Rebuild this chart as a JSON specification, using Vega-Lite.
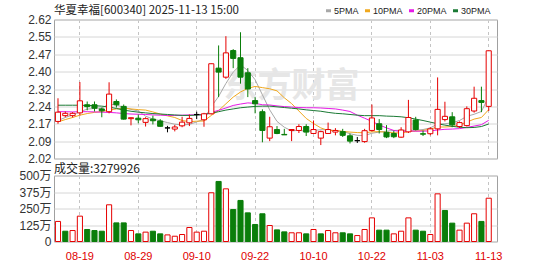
{
  "$schema": "https://vega.github.io/schema/vega-lite/v6.json",
  "background": "white",
  "padding": {"left": 18, "top": 5.5, "right": 5, "bottom": 0},
  "data": {"values": [
    {"d":"08-14","o":2.18,"h":2.28,"l":2.17,"c":2.22,"v":1520000,"vc":"u","5PMA":2.184,"10PMA":2.178,"20PMA":2.222,"30PMA":2.25},
    {"d":"08-15","o":2.205,"h":2.223,"l":2.198,"c":2.215,"v":780000,"vc":"d","5PMA":2.197,"10PMA":2.188,"20PMA":2.222,"30PMA":2.25},
    {"d":"08-18","o":2.205,"h":2.22,"l":2.197,"c":2.215,"v":830000,"vc":"u","5PMA":2.208,"10PMA":2.197,"20PMA":2.221,"30PMA":2.25},
    {"d":"08-19","o":2.217,"h":2.35,"l":2.206,"c":2.269,"v":1920000,"vc":"u","5PMA":2.222,"10PMA":2.207,"20PMA":2.222,"30PMA":2.25},
    {"d":"08-20","o":2.252,"h":2.266,"l":2.228,"c":2.244,"v":910000,"vc":"d","5PMA":2.233,"10PMA":2.214,"20PMA":2.222,"30PMA":2.249},
    {"d":"08-21","o":2.252,"h":2.266,"l":2.223,"c":2.237,"v":830000,"vc":"d","5PMA":2.236,"10PMA":2.219,"20PMA":2.221,"30PMA":2.248},
    {"d":"08-22","o":2.234,"h":2.24,"l":2.198,"c":2.226,"v":780000,"vc":"d","5PMA":2.238,"10PMA":2.223,"20PMA":2.22,"30PMA":2.246},
    {"d":"08-25","o":2.222,"h":2.349,"l":2.215,"c":2.298,"v":2780000,"vc":"u","5PMA":2.255,"10PMA":2.229,"20PMA":2.219,"30PMA":2.242},
    {"d":"08-26","o":2.266,"h":2.275,"l":2.24,"c":2.252,"v":1410000,"vc":"d","5PMA":2.251,"10PMA":2.234,"20PMA":2.217,"30PMA":2.236},
    {"d":"08-27","o":2.245,"h":2.253,"l":2.188,"c":2.19,"v":1410000,"vc":"d","5PMA":2.241,"10PMA":2.237,"20PMA":2.214,"30PMA":2.229},
    {"d":"08-28","o":2.192,"h":2.198,"l":2.163,"c":2.196,"v":830000,"vc":"u","5PMA":2.232,"10PMA":2.234,"20PMA":2.212,"30PMA":2.224},
    {"d":"08-29","o":2.194,"h":2.21,"l":2.172,"c":2.187,"v":580000,"vc":"d","5PMA":2.225,"10PMA":2.231,"20PMA":2.211,"30PMA":2.22},
    {"d":"09-01","o":2.176,"h":2.198,"l":2.158,"c":2.192,"v":710000,"vc":"u","5PMA":2.203,"10PMA":2.229,"20PMA":2.21,"30PMA":2.217},
    {"d":"09-02","o":2.19,"h":2.205,"l":2.167,"c":2.183,"v":780000,"vc":"d","5PMA":2.19,"10PMA":2.221,"20PMA":2.208,"30PMA":2.214},
    {"d":"09-03","o":2.182,"h":2.19,"l":2.157,"c":2.159,"v":580000,"vc":"d","5PMA":2.183,"10PMA":2.212,"20PMA":2.207,"30PMA":2.212},
    {"d":"09-04","o":2.152,"h":2.161,"l":2.133,"c":2.152,"v":500000,"vc":"u","5PMA":2.175,"10PMA":2.204,"20PMA":2.206,"30PMA":2.21},
    {"d":"09-05","o":2.147,"h":2.165,"l":2.137,"c":2.156,"v":400000,"vc":"u","5PMA":2.168,"10PMA":2.197,"20PMA":2.206,"30PMA":2.208},
    {"d":"09-08","o":2.161,"h":2.2,"l":2.155,"c":2.177,"v":530000,"vc":"u","5PMA":2.165,"10PMA":2.184,"20PMA":2.207,"30PMA":2.206},
    {"d":"09-09","o":2.174,"h":2.21,"l":2.16,"c":2.193,"v":1060000,"vc":"u","5PMA":2.167,"10PMA":2.179,"20PMA":2.208,"30PMA":2.206},
    {"d":"09-10","o":2.21,"h":2.222,"l":2.19,"c":2.21,"v":710000,"vc":"u","5PMA":2.178,"10PMA":2.181,"20PMA":2.209,"30PMA":2.207},
    {"d":"09-11","o":2.187,"h":2.217,"l":2.157,"c":2.213,"v":780000,"vc":"u","5PMA":2.19,"10PMA":2.182,"20PMA":2.208,"30PMA":2.21},
    {"d":"09-12","o":2.213,"h":2.43,"l":2.21,"c":2.429,"v":3690000,"vc":"u","5PMA":2.244,"10PMA":2.206,"20PMA":2.219,"30PMA":2.216},
    {"d":"09-15","o":2.41,"h":2.508,"l":2.285,"c":2.393,"v":4550000,"vc":"d","5PMA":2.288,"10PMA":2.227,"20PMA":2.228,"30PMA":2.222},
    {"d":"09-16","o":2.371,"h":2.548,"l":2.364,"c":2.476,"v":3990000,"vc":"u","5PMA":2.344,"10PMA":2.256,"20PMA":2.238,"30PMA":2.229},
    {"d":"09-17","o":2.486,"h":2.492,"l":2.41,"c":2.452,"v":2420000,"vc":"d","5PMA":2.393,"10PMA":2.285,"20PMA":2.249,"30PMA":2.234},
    {"d":"09-18","o":2.455,"h":2.565,"l":2.343,"c":2.371,"v":3110000,"vc":"d","5PMA":2.424,"10PMA":2.307,"20PMA":2.255,"30PMA":2.239},
    {"d":"09-19","o":2.39,"h":2.41,"l":2.285,"c":2.32,"v":2170000,"vc":"d","5PMA":2.4,"10PMA":2.323,"20PMA":2.26,"30PMA":2.242},
    {"d":"09-22","o":2.27,"h":2.285,"l":2.215,"c":2.256,"v":1290000,"vc":"d","5PMA":2.36,"10PMA":2.331,"20PMA":2.258,"30PMA":2.245},
    {"d":"09-23","o":2.222,"h":2.232,"l":2.09,"c":2.141,"v":2100000,"vc":"d","5PMA":2.295,"10PMA":2.326,"20PMA":2.252,"30PMA":2.246},
    {"d":"09-24","o":2.108,"h":2.2,"l":2.095,"c":2.157,"v":1210000,"vc":"u","5PMA":2.23,"10PMA":2.321,"20PMA":2.251,"30PMA":2.246},
    {"d":"09-25","o":2.145,"h":2.16,"l":2.125,"c":2.128,"v":880000,"vc":"d","5PMA":2.18,"10PMA":2.312,"20PMA":2.247,"30PMA":2.243},
    {"d":"09-26","o":2.124,"h":2.148,"l":2.122,"c":2.122,"v":730000,"vc":"d","5PMA":2.155,"10PMA":2.282,"20PMA":2.244,"30PMA":2.24},
    {"d":"09-29","o":2.141,"h":2.146,"l":2.095,"c":2.145,"v":660000,"vc":"u","5PMA":2.139,"10PMA":2.257,"20PMA":2.242,"30PMA":2.237},
    {"d":"09-30","o":2.141,"h":2.168,"l":2.13,"c":2.158,"v":660000,"vc":"u","5PMA":2.142,"10PMA":2.225,"20PMA":2.24,"30PMA":2.234},
    {"d":"10-09","o":2.158,"h":2.168,"l":2.117,"c":2.134,"v":580000,"vc":"d","5PMA":2.137,"10PMA":2.193,"20PMA":2.239,"30PMA":2.23},
    {"d":"10-10","o":2.128,"h":2.184,"l":2.126,"c":2.145,"v":910000,"vc":"u","5PMA":2.141,"10PMA":2.171,"20PMA":2.239,"30PMA":2.227},
    {"d":"10-13","o":2.108,"h":2.14,"l":2.078,"c":2.136,"v":580000,"vc":"d","5PMA":2.144,"10PMA":2.152,"20PMA":2.238,"30PMA":2.224},
    {"d":"10-14","o":2.128,"h":2.175,"l":2.126,"c":2.145,"v":830000,"vc":"u","5PMA":2.144,"10PMA":2.141,"20PMA":2.236,"30PMA":2.219},
    {"d":"10-15","o":2.134,"h":2.151,"l":2.12,"c":2.141,"v":660000,"vc":"u","5PMA":2.14,"10PMA":2.141,"20PMA":2.234,"30PMA":2.215},
    {"d":"10-16","o":2.136,"h":2.148,"l":2.113,"c":2.12,"v":660000,"vc":"d","5PMA":2.137,"10PMA":2.137,"20PMA":2.229,"30PMA":2.213},
    {"d":"10-17","o":2.118,"h":2.127,"l":2.085,"c":2.095,"v":580000,"vc":"d","5PMA":2.127,"10PMA":2.134,"20PMA":2.223,"30PMA":2.21},
    {"d":"10-20","o":2.097,"h":2.113,"l":2.087,"c":2.097,"v":450000,"vc":"u","5PMA":2.12,"10PMA":2.132,"20PMA":2.207,"30PMA":2.207},
    {"d":"10-21","o":2.093,"h":2.148,"l":2.088,"c":2.14,"v":910000,"vc":"u","5PMA":2.119,"10PMA":2.131,"20PMA":2.194,"30PMA":2.205},
    {"d":"10-22","o":2.141,"h":2.253,"l":2.136,"c":2.195,"v":1790000,"vc":"u","5PMA":2.129,"10PMA":2.135,"20PMA":2.18,"30PMA":2.205},
    {"d":"10-23","o":2.17,"h":2.19,"l":2.128,"c":2.145,"v":860000,"vc":"d","5PMA":2.134,"10PMA":2.136,"20PMA":2.165,"30PMA":2.205},
    {"d":"10-24","o":2.133,"h":2.164,"l":2.108,"c":2.113,"v":860000,"vc":"d","5PMA":2.138,"10PMA":2.133,"20PMA":2.152,"30PMA":2.203},
    {"d":"10-27","o":2.128,"h":2.14,"l":2.108,"c":2.114,"v":580000,"vc":"u","5PMA":2.141,"10PMA":2.131,"20PMA":2.141,"30PMA":2.202},
    {"d":"10-28","o":2.112,"h":2.155,"l":2.11,"c":2.143,"v":780000,"vc":"u","5PMA":2.142,"10PMA":2.13,"20PMA":2.136,"30PMA":2.2},
    {"d":"10-29","o":2.135,"h":2.273,"l":2.13,"c":2.197,"v":1790000,"vc":"u","5PMA":2.142,"10PMA":2.136,"20PMA":2.139,"30PMA":2.196},
    {"d":"10-30","o":2.186,"h":2.2,"l":2.141,"c":2.145,"v":860000,"vc":"d","5PMA":2.142,"10PMA":2.138,"20PMA":2.138,"30PMA":2.19},
    {"d":"10-31","o":2.127,"h":2.14,"l":2.117,"c":2.125,"v":780000,"vc":"d","5PMA":2.145,"10PMA":2.141,"20PMA":2.138,"30PMA":2.184},
    {"d":"11-03","o":2.127,"h":2.155,"l":2.12,"c":2.148,"v":530000,"vc":"u","5PMA":2.152,"10PMA":2.147,"20PMA":2.139,"30PMA":2.177},
    {"d":"11-04","o":2.148,"h":2.37,"l":2.12,"c":2.232,"v":3610000,"vc":"u","5PMA":2.169,"10PMA":2.156,"20PMA":2.143,"30PMA":2.17},
    {"d":"11-05","o":2.188,"h":2.265,"l":2.18,"c":2.202,"v":2350000,"vc":"d","5PMA":2.17,"10PMA":2.156,"20PMA":2.146,"30PMA":2.164},
    {"d":"11-06","o":2.2,"h":2.22,"l":2.155,"c":2.165,"v":1390000,"vc":"d","5PMA":2.174,"10PMA":2.158,"20PMA":2.147,"30PMA":2.159},
    {"d":"11-07","o":2.158,"h":2.18,"l":2.152,"c":2.175,"v":860000,"vc":"u","5PMA":2.184,"10PMA":2.165,"20PMA":2.149,"30PMA":2.155},
    {"d":"11-10","o":2.162,"h":2.245,"l":2.158,"c":2.235,"v":1390000,"vc":"u","5PMA":2.202,"10PMA":2.177,"20PMA":2.154,"30PMA":2.153},
    {"d":"11-11","o":2.225,"h":2.33,"l":2.218,"c":2.28,"v":2100000,"vc":"u","5PMA":2.211,"10PMA":2.19,"20PMA":2.16,"30PMA":2.154},
    {"d":"11-12","o":2.27,"h":2.33,"l":2.22,"c":2.262,"v":1520000,"vc":"d","5PMA":2.223,"10PMA":2.197,"20PMA":2.166,"30PMA":2.158},
    {"d":"11-13","o":2.245,"h":2.485,"l":2.225,"c":2.485,"v":3279926,"vc":"u","5PMA":2.287,"10PMA":2.231,"20PMA":2.185,"30PMA":2.169}
  ]},
  "vconcat": [
    {
      "width": 443,
      "height": 139,
      "encoding": {
        "x": {"field": "d", "type": "ordinal", "sort": null,
              "scale": {"paddingInner": 0.3, "paddingOuter": 0.49, "align": 0.2},
              "axis": {"values": ["08-19","08-29","09-10","09-22","10-10","10-22","11-03","11-13"], "labels": false, "ticks": false, "domain": false, "grid": true, "gridDash": [3,3], "gridColor": "#c4c4c4", "bandPosition": 0.5, "title": null}}
      },
      "layer": [
        {
          "mark": {"type": "text", "font": "Noto Sans CJK SC", "fontWeight": "bold", "fontSize": 34, "color": "#e6e6e6"},
          "encoding": {
            "y": {"datum": 2.33, "type": "quantitative",
                  "scale": {"domain": [2.02, 2.62], "zero": false, "nice": false},
                  "axis": {"values": [2.02, 2.095, 2.17, 2.245, 2.32, 2.395, 2.47, 2.545, 2.62], "labelExpr": "['2.02','2.09','2.17','2.24','2.32','2.40','2.47','2.55','2.62'][round((datum.value-2.02)/0.075)]", "grid": true, "gridColor": "#d6d6d6", "domain": false, "ticks": false, "labelPadding": 3, "labelFontSize": 12, "labelOverlap": false, "title": null}},
            "text": {"condition": {"test": "datum.d == '09-29'", "value": "东方财富"}, "value": ""}
          }
        },
        {
          "transform": [{"fold": ["5PMA", "10PMA", "20PMA", "30PMA"], "as": ["k", "m"]}],
          "mark": {"type": "line", "strokeWidth": 1},
          "encoding": {
            "y": {"field": "m", "type": "quantitative",
                  "scale": {"domain": [2.02, 2.62], "zero": false, "nice": false},
                  "axis": {"values": [2.02, 2.095, 2.17, 2.245, 2.32, 2.395, 2.47, 2.545, 2.62], "labelExpr": "['2.02','2.09','2.17','2.24','2.32','2.40','2.47','2.55','2.62'][round((datum.value-2.02)/0.075)]", "grid": true, "gridColor": "#d6d6d6", "domain": false, "ticks": false, "labelPadding": 3, "labelFontSize": 12, "labelOverlap": false, "title": null}},
            "color": {"field": "k", "type": "nominal",
                      "scale": {"domain": ["5PMA", "10PMA", "20PMA", "30PMA"], "range": ["#a8a8a8", "#f0a81e", "#e619e6", "#1b7a35"]},
                      "legend": {"orient": "none", "legendX": 0, "legendY": -13.5, "direction": "horizontal", "padding": 0,
                                 "title": "华夏幸福[600340] 2025-11-13 15:00", "titleOrient": "left", "titleFont": "Noto Sans CJK SC", "titleFontSize": 11.5, "titleFontWeight": "normal", "titleColor": "#222222", "titleLimit": 400, "titlePadding": 85, "titleBaseline": "middle",
                                 "symbolType": "stroke", "symbolStrokeWidth": 3, "symbolSize": 25, "labelFontSize": 9, "labelFont": "Liberation Sans", "labelColor": "#222222", "columnPadding": 0, "labelOffset": 1}}
          }
        },
        {
          "mark": {"type": "rule", "strokeWidth": 1},
          "encoding": {
            "y": {"field": "l", "type": "quantitative",
                  "scale": {"domain": [2.02, 2.62], "zero": false, "nice": false},
                  "axis": {"values": [2.02, 2.095, 2.17, 2.245, 2.32, 2.395, 2.47, 2.545, 2.62], "labelExpr": "['2.02','2.09','2.17','2.24','2.32','2.40','2.47','2.55','2.62'][round((datum.value-2.02)/0.075)]", "grid": true, "gridColor": "#d6d6d6", "domain": false, "ticks": false, "labelPadding": 3, "labelFontSize": 12, "labelOverlap": false, "title": null}},
            "y2": {"field": "h"},
            "stroke": {"condition": [{"test": "datum.c > datum.o", "value": "#e60000"}, {"test": "datum.c < datum.o", "value": "#0a7e0a"}], "value": "#000000"}
          }
        },
        {
          "mark": {"type": "bar", "strokeWidth": 1},
          "encoding": {
            "y": {"field": "o", "type": "quantitative",
                  "scale": {"domain": [2.02, 2.62], "zero": false, "nice": false},
                  "axis": {"values": [2.02, 2.095, 2.17, 2.245, 2.32, 2.395, 2.47, 2.545, 2.62], "labelExpr": "['2.02','2.09','2.17','2.24','2.32','2.40','2.47','2.55','2.62'][round((datum.value-2.02)/0.075)]", "grid": true, "gridColor": "#d6d6d6", "domain": false, "ticks": false, "labelPadding": 3, "labelFontSize": 12, "labelOverlap": false, "title": null}},
            "y2": {"field": "c"},
            "fill": {"condition": {"test": "datum.c < datum.o", "value": "#0a7e0a"}, "value": "#ffffff"},
            "stroke": {"condition": [{"test": "datum.c > datum.o", "value": "#e60000"}, {"test": "datum.c < datum.o", "value": "#0a7e0a"}], "value": "#000000"}
          }
        }
      ]
    },
    {
      "width": 443,
      "height": 66,
      "title": {"text": "成交量:3279926", "anchor": "start", "frame": "group", "fontSize": 12, "fontWeight": "normal", "font": "Noto Sans CJK SC", "color": "#222222", "offset": -6},
      "mark": {"type": "bar", "strokeWidth": 1},
      "encoding": {
        "x": {"field": "d", "type": "ordinal", "sort": null,
              "scale": {"paddingInner": 0.3, "paddingOuter": 0.49, "align": 0.2},
              "axis": {"values": ["08-19","08-29","09-10","09-22","10-10","10-22","11-03","11-13"], "labelColor": "#e00000", "labelFontSize": 11, "labelAngle": 0, "ticks": false, "domain": false, "grid": true, "gridDash": [3,3], "gridColor": "#c4c4c4", "bandPosition": 0.5, "labelPadding": 9, "title": null}},
        "y": {"field": "v", "type": "quantitative",
              "scale": {"domain": [0, 5000000], "nice": false},
              "axis": {"values": [0, 1250000, 2500000, 3750000, 5000000], "labelExpr": "datum.value == 0 ? '0' : format(datum.value / 10000, 'd') + '万'", "grid": true, "gridColor": "#d6d6d6", "domain": false, "ticks": false, "labelPadding": 3, "labelFontSize": 12, "labelOverlap": false, "title": null}},
        "fill": {"condition": {"test": "datum.vc == 'd'", "value": "#0a7e0a"}, "value": "#ffffff"},
        "stroke": {"condition": {"test": "datum.vc == 'd'", "value": "#0a7e0a"}, "value": "#e60000"}
      }
    }
  ],
  "spacing": 17,
  "bounds": "flush",
  "config": {
    "view": {"stroke": "#a0a0a0"},
    "axis": {"labelFont": "Liberation Sans, Noto Sans CJK SC", "labelColor": "#333333"}
  }
}
